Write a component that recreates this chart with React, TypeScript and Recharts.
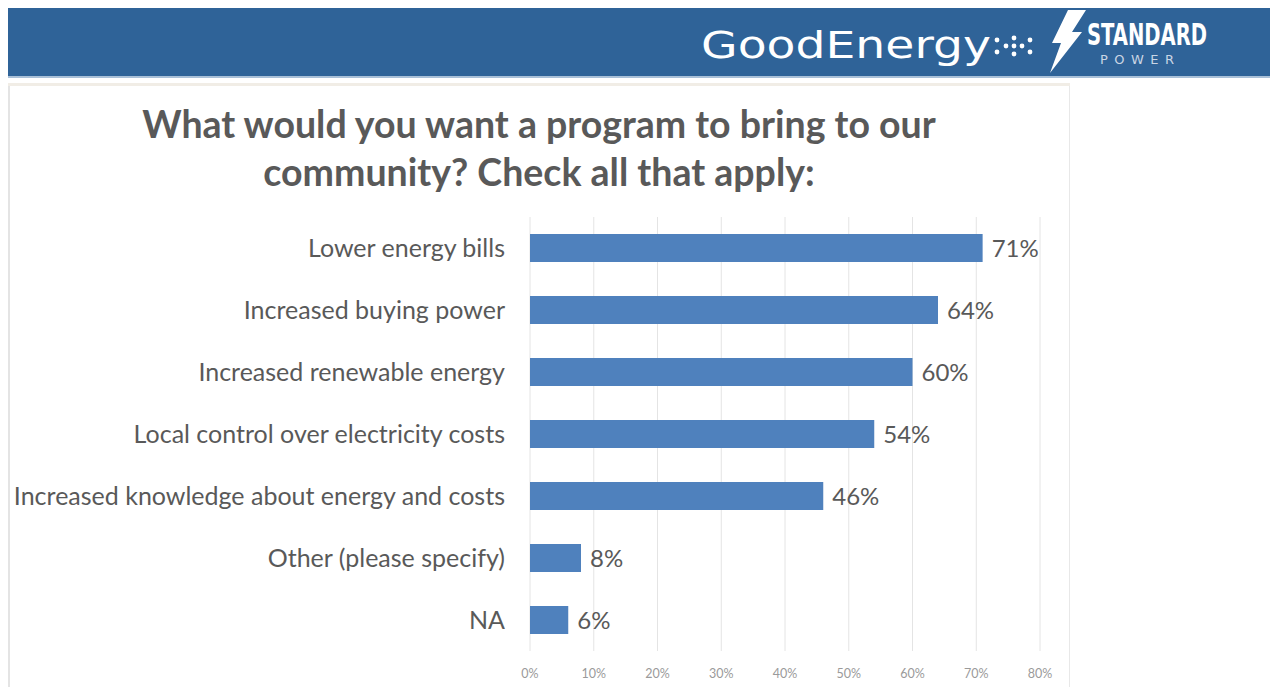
import React from "react";
import { BarChart, Bar, XAxis, YAxis, CartesianGrid, LabelList } from "recharts";

// survey answers, top to bottom
const categories = [
  "Lower energy bills",
  "Increased buying power",
  "Increased renewable energy",
  "Local control over electricity costs",
  "Increased knowledge about energy and costs",
  "Other (please specify)",
  "NA",
];
const shares = [71, 64, 60, 54, 46, 8, 6];
const xTicks = [0, 10, 20, 30, 40, 50, 60, 70, 80];

const rows = categories.map((name, i) => ({ name, share: shares[i] }));

const FONT = "Lato, 'Open Sans', sans-serif";
const BLUE = "#4F81BD";

function Header() {
  return (
    <svg width={1270} height={86} style={{ position: "absolute", left: 0, top: 0 }}>
      <rect x={8} y={8} width={1262} height={68} fill="#2F6398" />
      <rect x={8} y={76} width={1262} height={2} fill="#a9c0d8" />
      <rect x={8} y={83} width={1062} height={3} fill="#f1ede6" />
      <text
        x={701}
        y={58}
        fill="#fff"
        fontFamily="'DejaVu Sans', sans-serif"
        fontSize={38}
        textLength={290}
        lengthAdjust="spacingAndGlyphs"
      >
        GoodEnergy
      </text>
      {/* dotted tail of the wordmark */}
      {[
        [997, 40], [997, 52], [1006, 46], [1014, 38], [1014, 46], [1014, 54],
        [1022, 46], [1030, 40], [1030, 52],
      ].map(([cx, cy], i) => (
        <circle key={i} cx={cx} cy={cy} r={2.4} fill="#fff" />
      ))}
      <path d="M1068 10 L1086 10 L1072 32 L1082 32 L1050 73 L1061 43 L1052 43 Z" fill="#fff" />
      <text
        x={1087}
        y={45}
        fill="#fff"
        fontFamily="'Liberation Sans Narrow', 'DejaVu Sans Condensed', sans-serif"
        fontWeight="bold"
        fontSize={31}
        textLength={120}
        lengthAdjust="spacingAndGlyphs"
      >
        STANDARD
      </text>
      <text
        x={1100}
        y={64}
        fill="#c9d5e4"
        fontFamily="'DejaVu Sans', sans-serif"
        fontSize={13}
        textLength={74}
        lengthAdjust="spacing"
      >
        POWER
      </text>
    </svg>
  );
}

export default function App() {
  return (
    <div style={{ position: "absolute", left: 0, top: 0, width: 1270, height: 687, background: "#fff", overflow: "hidden" }}>
      <Header />
      <div
        style={{
          position: "absolute",
          left: 8,
          top: 86,
          width: 1062,
          height: 610,
          boxSizing: "border-box",
          borderLeft: "2px solid #e4e4e4",
          borderRight: "1px solid #e8e8e8",
        }}
      />
      <div
        style={{
          position: "absolute",
          left: 8,
          top: 100,
          width: 1062,
          textAlign: "center",
          fontFamily: FONT,
          fontWeight: "bold",
          fontSize: 37.5,
          lineHeight: "48px",
          color: "#595959",
        }}
      >
        What would you want a program to bring to our
        <br />
        community? Check all that apply:
      </div>
      <div style={{ position: "absolute", left: 8, top: 85 }}>
        <BarChart
          width={1062}
          height={602}
          data={rows}
          layout="vertical"
          margin={{ top: 132, right: 30, left: 0, bottom: 6 }}
          barSize={28}
        >
          <CartesianGrid horizontal={false} stroke="#e4e4e4" />
          <XAxis
            type="number"
            domain={[0, 80]}
            ticks={xTicks}
            tickFormatter={(v) => `${v}%`}
            axisLine={false}
            tickLine={false}
            height={30}
            tickMargin={12}
            tick={{ fontSize: 12.5, fill: "#9a9a9a", fontFamily: FONT }}
          />
          <YAxis
            type="category"
            dataKey="name"
            width={522}
            axisLine={false}
            tickLine={false}
            tickMargin={19}
            interval={0}
            tick={{ fontSize: 25, fill: "#595959", fontFamily: FONT }}
          />
          <Bar dataKey="share" fill={BLUE} isAnimationActive={false}>
            <LabelList
              dataKey="share"
              position="right"
              offset={9}
              formatter={(v: number) => `${v}%`}
              style={{ fontSize: 24, fill: "#595959", fontFamily: FONT }}
            />
          </Bar>
        </BarChart>
      </div>
    </div>
  );
}
